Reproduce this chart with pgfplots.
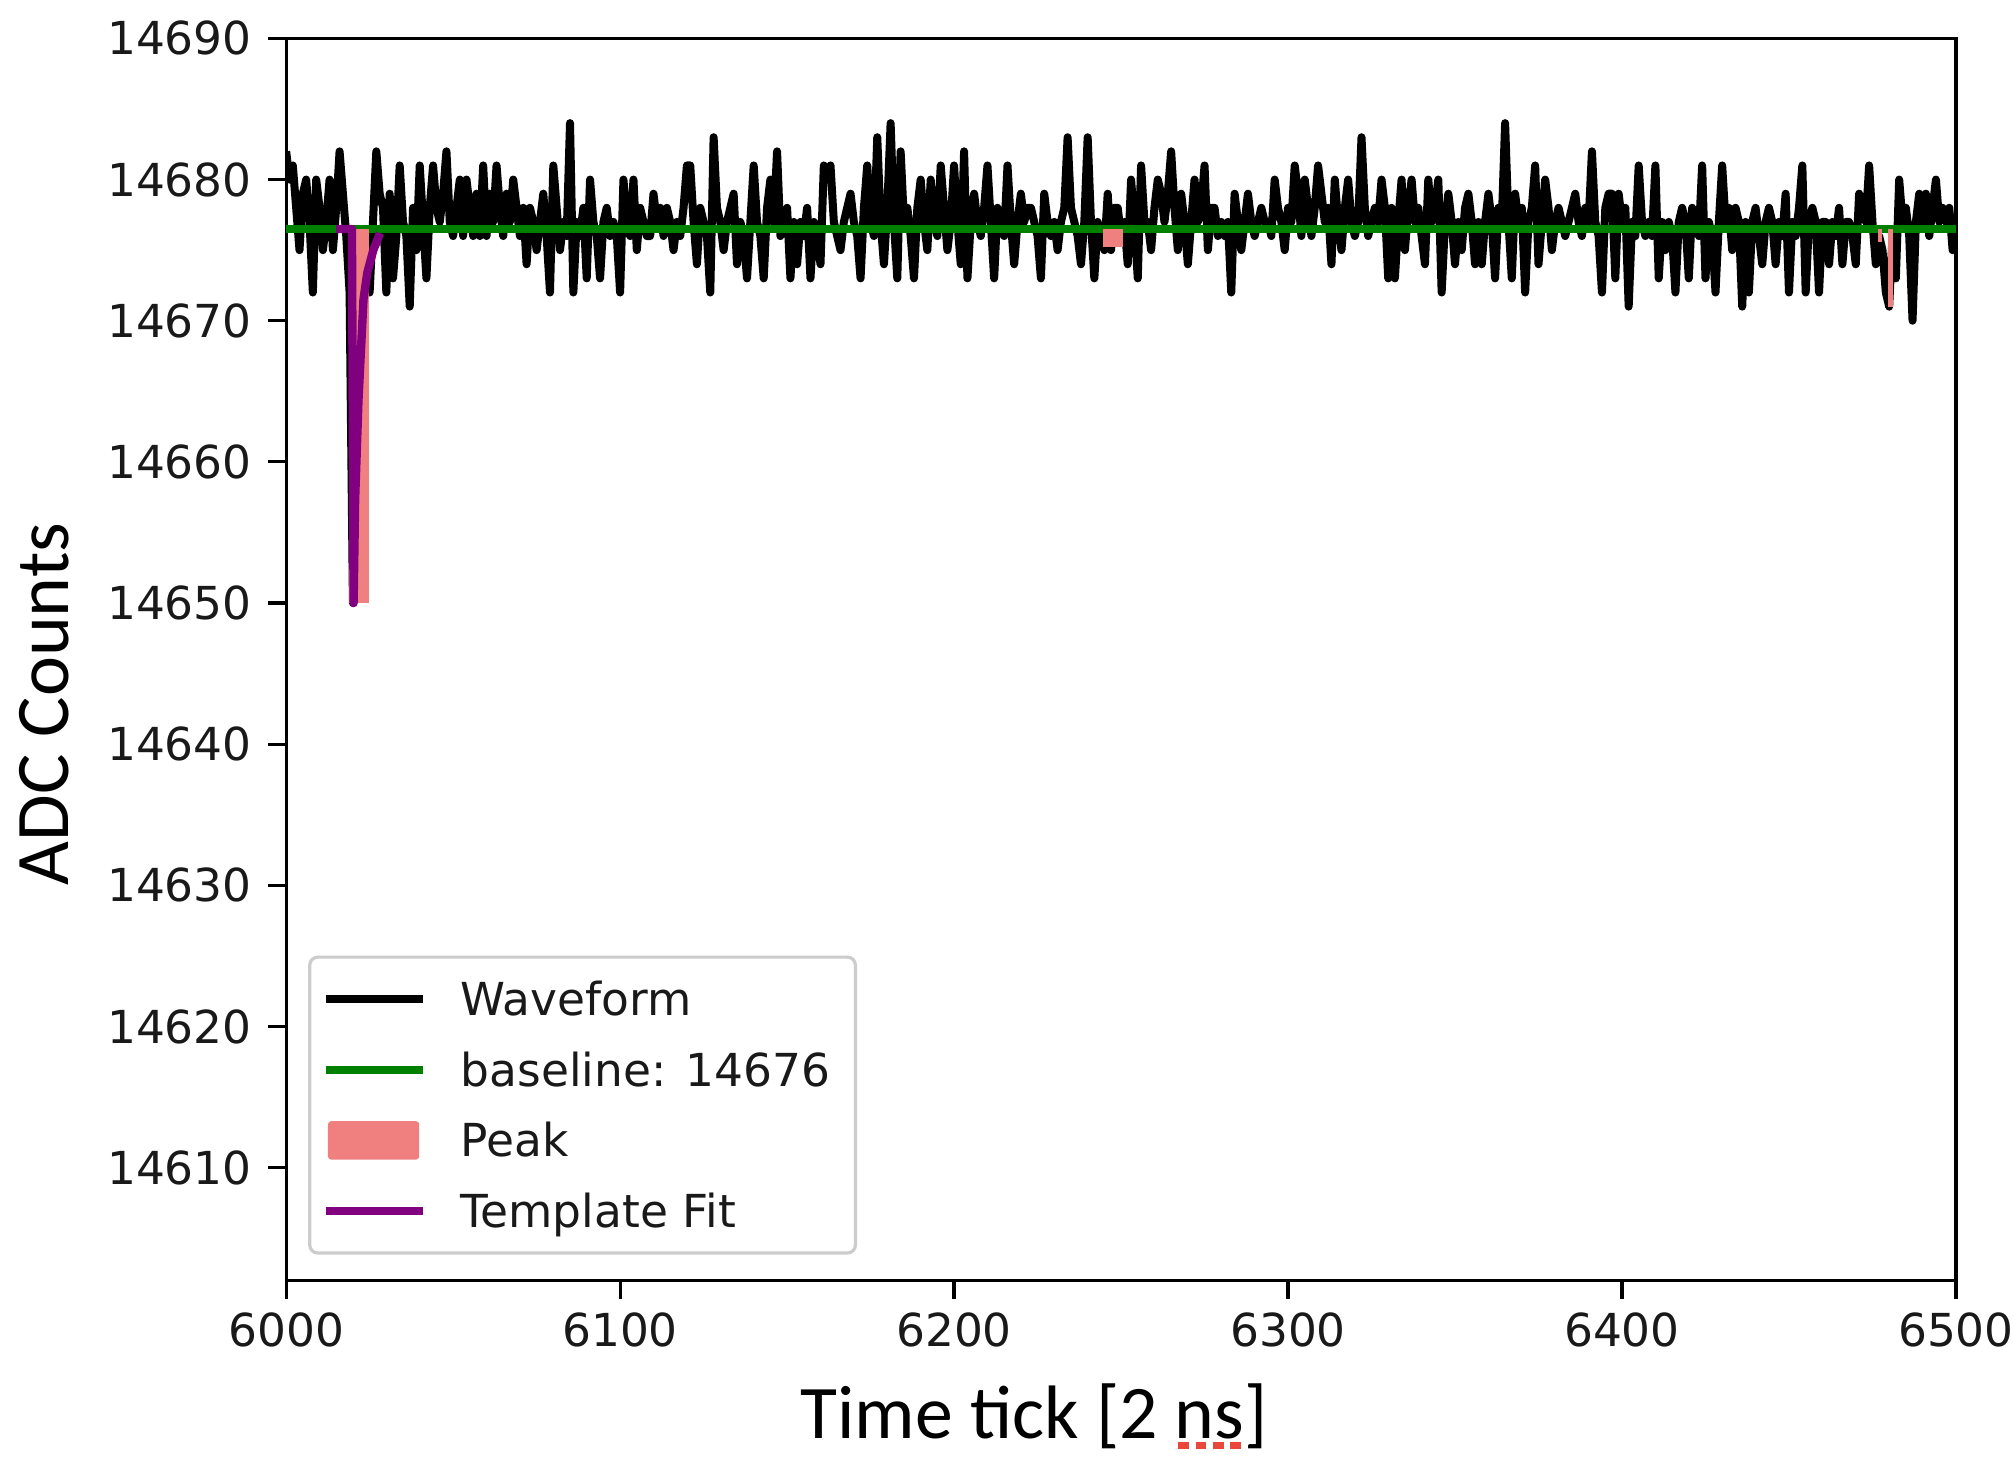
\documentclass[border=0pt]{standalone}
\usepackage{pgfplots}
\pgfplotsset{compat=1.18}
\usepackage{fontspec}
\setmainfont{DejaVu Sans}
\newfontfamily\carlito{Carlito}
\definecolor{wfgreen}{HTML}{008000}
\definecolor{peak}{HTML}{F08080}
\definecolor{tfit}{HTML}{800080}
\definecolor{spellred}{HTML}{E8473A}
\newlength\nsw
\newlength\nsd
\newcommand\spell[1]{\settowidth\nsw{#1}\setlength\nsd{\nsw}\divide\nsd by 4\rlap{\raisebox{-2.6bp}{\color{spellred}\leaders\hbox to \nsd{\hss\rule{0.62\nsd}{1.7bp}\hss}\hskip\nsw}}#1}
\pgfplotsset{
  linelegend/.style={legend image code/.code={\draw[##1, line cap=butt] (0bp,0bp) -- (24.4bp,0bp);}},
  peaklegend/.style={legend image code/.code={\fill[##1, rounded corners=0.8bp] (0.6bp,-4.8bp) rectangle (23.4bp,4.8bp);}},
}
\begin{document}
\begin{tikzpicture}
\path[use as bounding box] (-71.5bp,-49bp) rectangle (431.75bp,320bp);
\begin{axis}[
  scale only axis, width=417.25bp, height=310.4bp,
  xmin=6000, xmax=6500, ymin=14602, ymax=14690,
  xtick={6000,6100,6200,6300,6400,6500},
  ytick={14610,14620,14630,14640,14650,14660,14670,14680,14690},
  scaled x ticks=false, scaled y ticks=false,
  /pgf/number format/1000 sep={},
  /pgf/number format/assume math mode=true,
  tick label style={font=\fontsize{11.4}{13}\selectfont, black!90},
  xticklabel style={anchor=north, inner sep=0pt, yshift=-3.25bp},
  yticklabel style={anchor=east, inner sep=0pt, xshift=-3.9bp},
  tick align=outside, major tick length=4.5bp,
  tick style={line width=0.8bp, black},
  xtick pos=left, ytick pos=left,
  axis line style={line width=0.8bp},
  legend cell align=left,
  legend style={at={(0.0132,0.0209)}, anchor=south west, draw=black!20, line width=0.8bp,
    rounded corners=2bp, fill=white, inner xsep=2.9bp, inner ysep=4bp, row sep=4.65bp,
    font=\fontsize{11.4}{13}\selectfont, text=black!90,
    nodes={inner sep=0pt, text height=10.6bp, text depth=2.4bp},
    /tikz/every odd column/.append style={column sep=8.3bp}},
  linelegend,
]
\addplot[black, line width=2bp, line join=round] coordinates {
(6000,14682) (6001,14680) (6002,14681) (6003,14678) (6004,14675) (6005,14679) (6006,14680) (6007,14677) (6008,14672) (6009,14680)
(6010,14678) (6011,14675) (6012,14677) (6013,14680) (6014,14675) (6015,14678) (6016,14682) (6017,14679) (6018,14676) (6019,14672)
(6020,14650) (6021,14658) (6022,14666) (6023,14671) (6024,14674) (6025,14672) (6026,14677) (6027,14682) (6028,14679) (6029,14678)
(6030,14672) (6031,14679) (6032,14673) (6033,14676) (6034,14681) (6035,14677) (6036,14676) (6037,14671) (6038,14678) (6039,14675)
(6040,14681) (6041,14677) (6042,14673) (6043,14678) (6044,14681) (6045,14678) (6046,14677) (6047,14679) (6048,14682) (6049,14677)
(6050,14676) (6051,14678) (6052,14680) (6053,14676) (6054,14680) (6055,14678) (6056,14676) (6057,14679) (6058,14676) (6059,14681)
(6060,14676) (6061,14679) (6062,14677) (6063,14681) (6064,14678) (6065,14676) (6066,14679) (6067,14677) (6068,14680) (6069,14678)
(6070,14676) (6071,14678) (6072,14674) (6073,14678) (6074,14677) (6075,14675) (6076,14677) (6077,14679) (6078,14676) (6079,14672)
(6080,14681) (6081,14678) (6082,14675) (6083,14677) (6084,14676) (6085,14684) (6086,14672) (6087,14677) (6088,14676) (6089,14678)
(6090,14673) (6091,14680) (6092,14677) (6093,14676) (6094,14673) (6095,14677) (6096,14678) (6097,14676) (6098,14677) (6099,14676)
(6100,14672) (6101,14680) (6102,14677) (6103,14676) (6104,14680) (6105,14675) (6106,14678) (6107,14677) (6108,14676) (6109,14676)
(6110,14679) (6111,14677) (6112,14678) (6113,14676) (6114,14678) (6115,14677) (6116,14675) (6117,14677) (6118,14676) (6119,14678)
(6120,14681) (6121,14681) (6122,14677) (6123,14674) (6124,14678) (6125,14677) (6126,14676) (6127,14672) (6128,14683) (6129,14678)
(6130,14677) (6131,14675) (6132,14677) (6133,14678) (6134,14679) (6135,14674) (6136,14677) (6137,14676) (6138,14673) (6139,14677)
(6140,14681) (6141,14677) (6142,14676) (6143,14673) (6144,14678) (6145,14680) (6146,14677) (6147,14682) (6148,14676) (6149,14677)
(6150,14678) (6151,14673) (6152,14677) (6153,14674) (6154,14677) (6155,14676) (6156,14678) (6157,14673) (6158,14677) (6159,14676)
(6160,14674) (6161,14681) (6162,14680) (6163,14681) (6164,14677) (6165,14676) (6166,14675) (6167,14677) (6168,14678) (6169,14679)
(6170,14677) (6171,14676) (6172,14673) (6173,14678) (6174,14681) (6175,14677) (6176,14676) (6177,14683) (6178,14677) (6179,14674)
(6180,14678) (6181,14684) (6182,14677) (6183,14673) (6184,14682) (6185,14677) (6186,14678) (6187,14676) (6188,14673) (6189,14678)
(6190,14680) (6191,14677) (6192,14675) (6193,14680) (6194,14677) (6195,14676) (6196,14681) (6197,14678) (6198,14675) (6199,14677)
(6200,14681) (6201,14677) (6202,14674) (6203,14682) (6204,14673) (6205,14677) (6206,14679) (6207,14677) (6208,14676) (6209,14678)
(6210,14681) (6211,14677) (6212,14673) (6213,14678) (6214,14677) (6215,14676) (6216,14681) (6217,14677) (6218,14674) (6219,14677)
(6220,14679) (6221,14677) (6222,14678) (6223,14678) (6224,14677) (6225,14676) (6226,14673) (6227,14679) (6228,14677) (6229,14676)
(6230,14677) (6231,14675) (6232,14677) (6233,14678) (6234,14683) (6235,14678) (6236,14677) (6237,14676) (6238,14674) (6239,14677)
(6240,14683) (6241,14677) (6242,14673) (6243,14677) (6244,14676) (6245,14675) (6246,14679) (6247,14675) (6248,14678) (6249,14678)
(6250,14676) (6251,14677) (6252,14674) (6253,14680) (6254,14677) (6255,14673) (6256,14681) (6257,14677) (6258,14677) (6259,14675)
(6260,14678) (6261,14680) (6262,14679) (6263,14677) (6264,14679) (6265,14682) (6266,14678) (6267,14675) (6268,14679) (6269,14677)
(6270,14674) (6271,14677) (6272,14680) (6273,14677) (6274,14678) (6275,14681) (6276,14675) (6277,14678) (6278,14678) (6279,14676)
(6280,14677) (6281,14676) (6282,14677) (6283,14672) (6284,14679) (6285,14677) (6286,14675) (6287,14677) (6288,14679) (6289,14677)
(6290,14676) (6291,14677) (6292,14678) (6293,14677) (6294,14677) (6295,14676) (6296,14680) (6297,14678) (6298,14677) (6299,14675)
(6300,14678) (6301,14677) (6302,14681) (6303,14679) (6304,14676) (6305,14680) (6306,14678) (6307,14676) (6308,14678) (6309,14681)
(6310,14679) (6311,14677) (6312,14678) (6313,14674) (6314,14680) (6315,14677) (6316,14675) (6317,14678) (6318,14680) (6319,14677)
(6320,14676) (6321,14677) (6322,14683) (6323,14678) (6324,14676) (6325,14677) (6326,14678) (6327,14677) (6328,14680) (6329,14678)
(6330,14673) (6331,14678) (6332,14673) (6333,14677) (6334,14680) (6335,14675) (6336,14678) (6337,14680) (6338,14677) (6339,14678)
(6340,14676) (6341,14674) (6342,14680) (6343,14677) (6344,14678) (6345,14680) (6346,14672) (6347,14677) (6348,14679) (6349,14677)
(6350,14674) (6351,14677) (6352,14675) (6353,14678) (6354,14679) (6355,14677) (6356,14674) (6357,14677) (6358,14674) (6359,14677)
(6360,14679) (6361,14677) (6362,14673) (6363,14678) (6364,14677) (6365,14684) (6366,14677) (6367,14673) (6368,14679) (6369,14677)
(6370,14678) (6371,14672) (6372,14677) (6373,14678) (6374,14681) (6375,14674) (6376,14677) (6377,14680) (6378,14678) (6379,14675)
(6380,14677) (6381,14678) (6382,14677) (6383,14676) (6384,14677) (6385,14678) (6386,14679) (6387,14677) (6388,14676) (6389,14678)
(6390,14677) (6391,14682) (6392,14677) (6393,14676) (6394,14672) (6395,14678) (6396,14679) (6397,14679) (6398,14673) (6399,14679)
(6400,14677) (6401,14678) (6402,14671) (6403,14677) (6404,14676) (6405,14681) (6406,14677) (6407,14676) (6408,14677) (6409,14676)
(6410,14681) (6411,14673) (6412,14677) (6413,14675) (6414,14677) (6415,14676) (6416,14672) (6417,14677) (6418,14678) (6419,14677)
(6420,14673) (6421,14678) (6422,14677) (6423,14676) (6424,14681) (6425,14673) (6426,14677) (6427,14676) (6428,14672) (6429,14677)
(6430,14681) (6431,14677) (6432,14678) (6433,14675) (6434,14678) (6435,14677) (6436,14671) (6437,14677) (6438,14672) (6439,14677)
(6440,14678) (6441,14676) (6442,14674) (6443,14677) (6444,14678) (6445,14677) (6446,14674) (6447,14677) (6448,14676) (6449,14679)
(6450,14672) (6451,14677) (6452,14676) (6453,14678) (6454,14681) (6455,14672) (6456,14677) (6457,14678) (6458,14677) (6459,14672)
(6460,14677) (6461,14677) (6462,14674) (6463,14677) (6464,14676) (6465,14678) (6466,14674) (6467,14677) (6468,14677) (6469,14676)
(6470,14674) (6471,14679) (6472,14678) (6473,14677) (6474,14681) (6475,14677) (6476,14674) (6477,14676) (6478,14675) (6479,14672)
(6480,14671) (6481,14676) (6482,14673) (6483,14680) (6484,14677) (6485,14678) (6486,14676) (6487,14670) (6488,14677) (6489,14679)
(6490,14677) (6491,14679) (6492,14676) (6493,14678) (6494,14680) (6495,14677) (6496,14678) (6497,14677) (6498,14678) (6499,14675)
(6500,14677)
};
\addlegendentry{Waveform}
\addplot[wfgreen, line width=2bp] coordinates {(6000,14676.5) (6500,14676.5)};
\addlegendentry{baseline: 14676\rule{3.4bp}{0pt}}
\addplot[fill=peak, draw=none, peaklegend]
  coordinates {(6018.7,14676.5) (6018.7,14650) (6024.8,14650) (6024.8,14676.5)};
\addlegendentry{Peak}
\addplot[fill=peak, draw=none, forget plot]
  coordinates {(6244.5,14676.5) (6244.5,14675.2) (6250.5,14675.2) (6250.5,14676.5)};
\addplot[fill=peak, draw=none, forget plot]
  coordinates {(6479.5,14676.5) (6479.5,14671) (6481.2,14671) (6481.2,14676.5)};
\addplot[fill=peak, draw=none, forget plot]
  coordinates {(6476.7,14676.5) (6476.7,14675.6) (6478,14675.6) (6478,14676.5)};
\addplot[tfit, line width=2.1bp, line join=round] coordinates {
(6015,14676.5) (6019.7,14676.5) (6020.2,14650) (6020.65,14657.3) (6021.66,14664.4)
(6023.16,14671.5) (6024.3,14673.4) (6026.1,14675) (6028.1,14676.2)};
\addlegendentry{Template Fit}
\end{axis}
\node[anchor=base, font=\carlito\fontsize{19}{22}\selectfont] at (186.9bp,-39.5bp) {Time tick [2 \spell{ns}]};
\node[anchor=base, rotate=90, font=\carlito\fontsize{19}{22}\selectfont] at (-54.5bp,144.1bp) {ADC Counts};
\end{tikzpicture}
\end{document}
